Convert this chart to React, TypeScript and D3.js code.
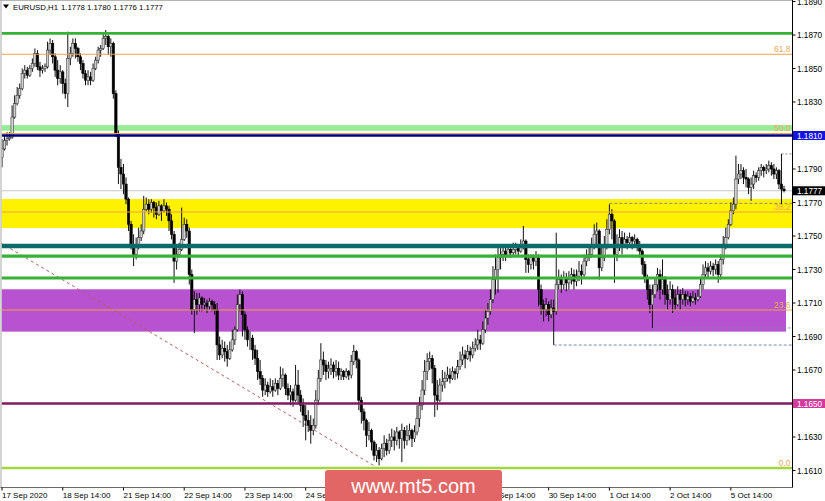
import React from "react";
import * as d3 from "d3";

// EURUSD H1 candles, prices in pips (price x 10000)
const openP = [
11797,11802,11807,11808,11809,11821,11829,11834,11838,11847,
11849,11846,11850,11853,11859,11851,11849,11850,11851,11861,
11865,11857,11849,11844,11848,11841,11835,11856,11859,11865,
11862,11857,11853,11847,11843,11845,11843,11850,11855,11861,
11862,11868,11869,11863,11865,11835,11811,11791,11787,11781,
11772,11757,11745,11739,11743,11749,11753,11766,11769,11766,
11770,11767,11763,11768,11765,11768,11766,11759,11751,11735,
11739,11742,11748,11757,11753,11727,11706,11712,11709,11713,
11709,11710,11708,11711,11709,11706,11685,11679,11683,11681,
11677,11682,11688,11694,11709,11715,11703,11694,11688,11689,
11682,11677,11669,11665,11658,11661,11657,11660,11658,11662,
11659,11665,11667,11659,11655,11657,11652,11661,11655,11649,
11643,11640,11637,11634,11637,11652,11665,11676,11673,11669,
11671,11673,11669,11671,11667,11669,11666,11669,11667,11675,
11681,11676,11652,11645,11640,11631,11634,11627,11619,11622,
11617,11623,11626,11622,11628,11630,11628,11633,11629,11634,
11628,11631,11634,11629,11633,11641,11649,11658,11669,11675,
11677,11671,11655,11652,11661,11663,11665,11667,11665,11669,
11668,11672,11676,11679,11677,11681,11679,11683,11685,11688,
11686,11694,11701,11705,11712,11724,11730,11737,11739,11741,
11738,11742,11740,11742,11743,11741,11744,11747,11736,11733,
11737,11735,11737,11718,11709,11706,11709,11703,11707,11705,
11721,11724,11721,11725,11722,11724,11727,11723,11726,11729,
11727,11735,11737,11739,11745,11751,11753,11731,11737,11745,
11754,11763,11759,11739,11745,11749,11745,11748,11746,11749,
11747,11748,11744,11741,11733,11725,11718,11709,11715,11721,
11727,11718,11724,11715,11712,11718,11713,11709,11715,11712,
11715,11712,11714,11711,11713,11712,11714,11721,11727,11731,
11729,11732,11730,11733,11727,11736,11745,11749,11757,11765,
11769,11784,11787,11789,11785,11784,11779,11781,11786,11785,
11789,11791,11789,11790,11792,11790,11787,11789,11781,11778];

const highP = [
11808,11810,11812,11812,11828,11834,11839,11841,11850,11852,
11851,11852,11856,11862,11861,11854,11852,11853,11866,11868,
11867,11859,11855,11852,11849,11844,11872,11863,11868,11868,
11863,11859,11855,11849,11849,11848,11853,11857,11863,11864,
11871,11873,11870,11868,11866,11837,11813,11796,11793,11785,
11773,11759,11751,11749,11755,11757,11774,11773,11772,11772,
11771,11770,11771,11769,11772,11770,11768,11763,11753,11745,
11746,11767,11761,11760,11755,11730,11717,11716,11716,11714,
11713,11712,11713,11712,11711,11710,11690,11688,11687,11685,
11687,11694,11696,11715,11718,11717,11705,11696,11693,11691,
11685,11682,11676,11667,11665,11663,11665,11664,11665,11664,
11672,11671,11668,11662,11661,11659,11673,11670,11658,11653,
11649,11646,11643,11641,11658,11670,11686,11681,11676,11675,
11677,11675,11676,11675,11671,11670,11671,11670,11679,11685,
11682,11677,11654,11647,11641,11639,11635,11628,11626,11624,
11626,11631,11629,11632,11635,11634,11636,11634,11638,11636,
11637,11638,11635,11637,11649,11654,11664,11676,11680,11681,
11679,11673,11664,11665,11670,11669,11672,11671,11672,11671,
11676,11681,11684,11682,11685,11684,11687,11689,11694,11691,
11699,11706,11710,11718,11732,11739,11743,11743,11744,11743,
11745,11744,11746,11746,11745,11748,11756,11748,11739,11739,
11739,11741,11739,11721,11712,11713,11711,11712,11712,11752,
11730,11727,11729,11728,11729,11731,11730,11730,11735,11733,
11739,11742,11743,11749,11757,11758,11754,11745,11750,11760,
11769,11766,11760,11751,11754,11753,11752,11750,11752,11750,
11751,11749,11747,11742,11735,11727,11721,11721,11725,11731,
11730,11736,11726,11721,11723,11721,11718,11720,11718,11719,
11717,11717,11716,11717,11716,11718,11725,11733,11735,11734,
11735,11734,11736,11735,11739,11750,11755,11760,11770,11773,
11798,11793,11793,11791,11790,11785,11785,11789,11788,11791,
11793,11792,11793,11795,11794,11793,11791,11790,11799,11780];

const lowP = [
11791,11801,11804,11807,11808,11820,11828,11832,11837,11844,
11844,11845,11848,11851,11849,11845,11847,11848,11850,11858,
11853,11845,11840,11841,11835,11832,11827,11852,11857,11856,
11854,11849,11844,11840,11840,11840,11842,11849,11853,11857,
11861,11864,11858,11857,11832,11809,11781,11778,11775,11769,
11753,11742,11732,11736,11742,11747,11751,11765,11763,11764,
11761,11760,11762,11759,11764,11762,11753,11748,11722,11730,
11737,11741,11747,11749,11721,11703,11692,11703,11705,11705,
11706,11704,11706,11705,11703,11676,11676,11677,11675,11672,
11676,11681,11685,11693,11705,11690,11688,11684,11682,11676,
11673,11664,11661,11654,11655,11654,11656,11654,11657,11655,
11658,11660,11655,11652,11649,11648,11651,11650,11645,11636,
11628,11633,11626,11631,11635,11649,11663,11667,11664,11665,
11667,11665,11666,11664,11664,11664,11665,11664,11665,11673,
11671,11646,11638,11634,11624,11628,11622,11616,11615,11613,
11616,11618,11619,11620,11624,11622,11625,11623,11615,11623,
11625,11628,11624,11627,11631,11636,11646,11655,11664,11670,
11662,11642,11646,11651,11657,11659,11663,11662,11664,11664,
11665,11670,11673,11671,11676,11675,11677,11681,11682,11682,
11685,11692,11697,11703,11710,11715,11716,11730,11735,11735,
11737,11737,11738,11739,11738,11740,11742,11728,11728,11730,
11730,11732,11708,11703,11699,11702,11699,11701,11685,11703,
11718,11716,11718,11717,11718,11721,11718,11720,11723,11721,
11725,11732,11735,11737,11742,11745,11724,11729,11735,11742,
11751,11748,11722,11735,11741,11739,11743,11742,11744,11742,
11744,11741,11737,11727,11722,11712,11704,11695,11713,11717,
11712,11715,11709,11706,11709,11704,11706,11708,11706,11709,
11708,11709,11708,11710,11709,11711,11713,11718,11725,11725,
11727,11726,11727,11722,11724,11733,11742,11748,11756,11763,
11766,11781,11784,11781,11779,11775,11771,11778,11782,11783,
11786,11785,11787,11788,11786,11784,11784,11778,11769,11776];

const closeP = [
11802,11807,11808,11809,11821,11829,11834,11838,11847,11849,
11846,11850,11853,11859,11851,11849,11850,11851,11861,11865,
11857,11849,11844,11848,11841,11835,11856,11859,11865,11862,
11857,11853,11847,11843,11845,11843,11850,11855,11861,11862,
11868,11869,11863,11865,11835,11811,11791,11787,11781,11772,
11757,11745,11739,11743,11749,11753,11766,11769,11766,11770,
11767,11763,11768,11765,11768,11766,11759,11751,11735,11739,
11742,11748,11757,11753,11727,11706,11712,11709,11713,11709,
11710,11708,11711,11709,11706,11685,11679,11683,11681,11677,
11682,11688,11694,11709,11715,11703,11694,11688,11689,11682,
11677,11669,11665,11658,11661,11657,11660,11658,11662,11659,
11665,11667,11659,11655,11657,11652,11661,11655,11649,11643,
11640,11637,11634,11637,11652,11665,11676,11673,11669,11671,
11673,11669,11671,11667,11669,11666,11669,11667,11675,11681,
11676,11652,11645,11640,11631,11634,11627,11619,11622,11617,
11623,11626,11622,11628,11630,11628,11633,11629,11634,11628,
11631,11634,11629,11633,11641,11649,11658,11669,11675,11677,
11671,11655,11652,11661,11663,11665,11667,11665,11669,11668,
11672,11676,11679,11677,11681,11679,11683,11685,11688,11686,
11694,11701,11705,11712,11724,11730,11737,11739,11741,11738,
11742,11740,11742,11743,11741,11744,11747,11736,11733,11737,
11735,11737,11718,11709,11706,11709,11703,11707,11705,11721,
11724,11721,11725,11722,11724,11727,11723,11726,11729,11727,
11735,11737,11739,11745,11751,11753,11731,11737,11745,11754,
11763,11759,11739,11745,11749,11745,11748,11746,11749,11747,
11748,11744,11741,11733,11725,11718,11709,11715,11721,11727,
11718,11724,11715,11712,11718,11713,11709,11715,11712,11715,
11712,11714,11711,11713,11712,11714,11721,11727,11731,11729,
11732,11730,11733,11727,11736,11745,11749,11757,11765,11769,
11784,11787,11789,11785,11784,11779,11781,11786,11785,11789,
11791,11789,11790,11792,11790,11787,11789,11781,11778,11777];

const timeLabels = ["17 Sep 2020","18 Sep 14:00","21 Sep 14:00","22 Sep 14:00","23 Sep 14:00","24 Sep 14:00","25 Sep 14:00","28 Sep 14:00","29 Sep 14:00","30 Sep 14:00","1 Oct 14:00","2 Oct 14:00","5 Oct 14:00"];
const timeLabelBars = [0,24,48,72,96,120,144,168,192,216,240,264,288];
const priceTicks = [1.1890,1.1870,1.1850,1.1830,1.1810,1.1790,1.1770,1.1750,1.1730,1.1710,1.1690,1.1670,1.1650,1.1630,1.1610];

// horizontal levels: price, colour, width
const levelPrices = [1.1871, 1.1810, 1.1744, 1.1738, 1.1725, 1.1650, 1.16115];
const levelColors = ["#36b236", "#000080", "#0b6b6b", "#36b236", "#36b236", "#801a60", "#a2d63c"];
const levelWidths = [2.6, 2.6, 4.5, 3.4, 3, 2.6, 2.6];
// zones: [low, high]
const zoneLows = [1.18128, 1.17548, 1.16929];
const zoneHighs = [1.18162, 1.17721, 1.17182];
const zoneColors = ["#98ec98", "#fff200", "#b752d0"];
const zoneEndBars = [null, null, 309.8];
// fibonacci
const fibNames = ["0.0", "23.6", "38.2", "50.0", "61.8"];
const fibPrices = [1.16115, 1.17058, 1.17643, 1.18112, 1.18585];

const currentPrice = 1.1777;
const headerSymbol = "EURUSD,H1";
const header = "1.1778 1.1780 1.1776 1.1777";

export default function App() {
  const N = closeP.length;
  const PIP = 0.0001;
  const plotL = 1.5, plotR = 792.5, plotT = 0.5, plotB = 487.5;
  const x = d3.scaleLinear().domain([0, N - 1]).range([2, 784]);
  const y = d3.scaleLinear().domain([1.161, 1.189]).range([470.5, 1.5]);
  const font = "'Liberation Sans', Arial, sans-serif";
  const trend = d3.line<[number, number]>().x(d => x(d[0])).y(d => y(d[1]));
  const trendPts: [number, number][] = [[-0.8, 1.17462], [147.5, 1.16124]];
  const wmL = 325, wmR = 502;

  return (
    <svg width={825} height={501} style={{ position: "absolute", left: 0, top: 0, display: "block", background: "#fff" }} fontFamily={font}>
      <defs>
        <clipPath id="plot"><rect x={plotL} y={plotT} width={plotR - plotL} height={plotB - plotT} /></clipPath>
      </defs>
      <rect x={0} y={0} width={825} height={501} fill="#fff" />
      <g clipPath="url(#plot)">
        {zoneLows.map((lo, k) => (
          <rect key={"z" + k} x={plotL} y={y(zoneHighs[k])} width={(zoneEndBars[k] != null ? x(zoneEndBars[k] as number) : plotR) - plotL}
            height={y(lo) - y(zoneHighs[k])} fill={zoneColors[k]} />
        ))}
        <line x1={plotL} x2={plotR} y1={y(currentPrice)} y2={y(currentPrice)} stroke="#c8c8c8" strokeWidth={1} />
        <path d={trend(trendPts) || ""} stroke="#b85a5a" strokeWidth={1} strokeDasharray="3,3" fill="none" />
        <line x1={x(240)} x2={plotR} y1={y(1.17695)} y2={y(1.17695)} stroke="#8a8a8a" strokeWidth={1} strokeDasharray="3,2" />
        <line x1={x(218)} x2={plotR} y1={y(1.16849)} y2={y(1.16849)} stroke="#6f8fb0" strokeWidth={1} strokeDasharray="3,2" />
        <line x1={x(257)} x2={plotR} y1={y(1.16951)} y2={y(1.16951)} stroke="#6f8fb0" strokeWidth={1} strokeDasharray="2,2" />
        <line x1={x(308)} x2={plotR} y1={y(1.1799)} y2={y(1.1799)} stroke="#8a8a8a" strokeWidth={1} strokeDasharray="2,2" />
        {openP.map((op0, i) => {
          const o = op0 * PIP, c = closeP[i] * PIP, h = highP[i] * PIP, l = lowP[i] * PIP;
          const cx = x(i);
          const top = y(Math.max(o, c)), bot = y(Math.min(o, c));
          const bull = c >= o;
          return (
            <g key={i}>
              <line x1={cx} x2={cx} y1={y(Math.max(h, o, c))} y2={y(Math.min(l, o, c))} stroke="#111" strokeWidth={1} />
              <rect x={cx - 1.2} y={top} width={2.4} height={Math.max(bot - top, 0.8)}
                fill={bull ? "#d0d0d0" : "#000"} stroke={bull ? "#333" : "#000"} strokeWidth={0.55} />
            </g>
          );
        })}
        {fibPrices.map((p, k) => (
          <line key={"f" + k} x1={plotL} x2={plotR} y1={y(p)} y2={y(p)} stroke="#eea244" strokeWidth={1.1} />
        ))}
        {levelPrices.map((p, k) => (
          <line key={"l" + k} x1={plotL} x2={plotR} y1={y(p)} y2={y(p)} stroke={levelColors[k]} strokeWidth={levelWidths[k]} />
        ))}
        {fibPrices.map((p, k) => (
          <text key={"ft" + k} x={790.5} y={y(p) - 2} fontSize={8.5} fill="#e6ab58" textAnchor="end">{fibNames[k]}</text>
        ))}
      </g>
      <line x1={0} x2={plotR} y1={plotT} y2={plotT} stroke="#b4b4b4" strokeWidth={1} />
      <line x1={plotL - 0.5} x2={plotL - 0.5} y1={0} y2={plotB} stroke="#a8a8a8" strokeWidth={1} />
      <line x1={plotL - 1} x2={plotR} y1={plotB} y2={plotB} stroke="#6a6a6a" strokeWidth={1} />
      <line x1={plotR} x2={plotR} y1={0} y2={plotB} stroke="#000" strokeWidth={1} />
      <path d="M3,4.5 L9,4.5 L6,8.5 Z" fill="#000" />
      <text x={13} y={10} fontSize={7.8} fill="#000">{headerSymbol}</text>
      <text x={61} y={10} fontSize={7.8} fill="#000">{header}</text>
      {priceTicks.map((p, k) => (
        <g key={"p" + k}>
          <line x1={plotR} x2={plotR + 3} y1={y(p)} y2={y(p)} stroke="#000" />
          <text x={797} y={y(p) + 3} fontSize={8.2} fill="#000">{p.toFixed(4)}</text>
        </g>
      ))}
      <g>
        <rect x={793} y={y(1.181) - 4.5} width={32} height={9} fill="#1414e0" />
        <text x={797} y={y(1.181) + 3} fontSize={8.2} fill="#fff">1.1810</text>
        <rect x={793} y={y(currentPrice) - 4.5} width={32} height={9} fill="#000" />
        <text x={797} y={y(currentPrice) + 3} fontSize={8.2} fill="#fff">{currentPrice.toFixed(4)}</text>
        <rect x={793} y={y(1.165) - 4.5} width={32} height={9} fill="#d23a9c" />
        <text x={797} y={y(1.165) + 3} fontSize={8.2} fill="#fff">1.1650</text>
      </g>
      {timeLabels.map((t, k) => {
        const tx = x(timeLabelBars[k]);
        const hidden = tx > wmL && tx + 46 < wmR;
        return (
          <g key={"t" + k}>
            <line x1={tx} x2={tx} y1={plotB} y2={plotB + 3} stroke="#000" />
            {!hidden && <text x={tx} y={497.5} fontSize={8} fill="#000">{t}</text>}
          </g>
        );
      })}
      <rect x={wmL} y={470} width={wmR - wmL} height={40} rx={3} fill="#e26666" />
      <text x={413.5} y={493} fontSize={20} fill="#fff" textAnchor="middle">www.mt5.com</text>
    </svg>
  );
}
